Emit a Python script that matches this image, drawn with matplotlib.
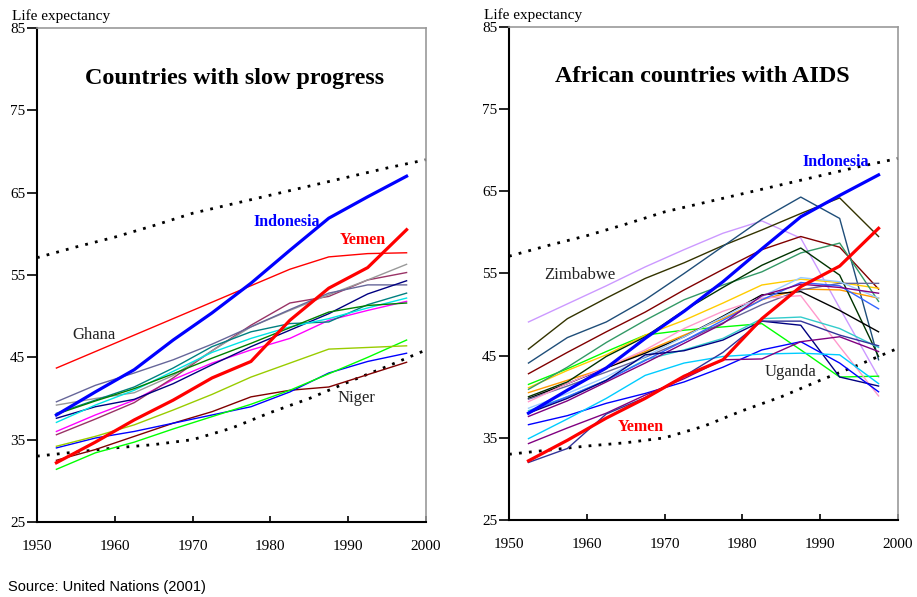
import numpy as np
import matplotlib
matplotlib.use("Agg")
from matplotlib import pyplot as plt

plt.rcParams['font.family'] = ['Liberation Serif', 'DejaVu Serif']

# mid-points of the five-year periods
years = [1952.5, 1957.5, 1962.5, 1967.5, 1972.5, 1977.5, 1982.5, 1987.5, 1992.5, 1997.5]

# frontier (dotted) lines
frontier_years = [1950, 1955, 1960, 1965, 1970, 1975, 1980, 1985, 1990, 1995, 2000]
frontier_upper = [57.1, 58.4, 59.6, 61.0, 62.5, 63.6, 64.7, 65.8, 66.9, 68.0, 69.0]
frontier_lower = [33.0, 33.5, 34.0, 34.4, 35.0, 36.4, 38.3, 40.0, 42.0, 43.9, 45.9]

# highlighted countries (both panels)
indonesia = [38.0, 40.8, 43.5, 47.1, 50.4, 54.0, 58.0, 61.9, 64.5, 67.0]
yemen = [32.2, 34.7, 37.4, 39.8, 42.5, 44.5, 49.5, 53.4, 55.9, 60.5]

# left panel: countries with slow progress
ghana = [43.7, 45.7, 47.7, 49.7, 51.7, 53.7, 55.7, 57.2, 57.6, 57.7]
niger = [32.5, 33.8, 35.4, 37.0, 38.4, 40.2, 41.0, 41.4, 42.9, 44.4]
slow_blue = [34.0, 35.2, 36.0, 37.0, 38.0, 39.0, 40.8, 43.1, 44.5, 45.5]
slow_green = [31.4, 33.4, 34.7, 36.3, 37.8, 39.3, 41.0, 43.0, 45.0, 47.1]
slow_olive = [34.2, 35.4, 36.8, 38.6, 40.5, 42.6, 44.3, 46.0, 46.2, 46.4]
slow_magenta = [36.0, 38.0, 39.8, 42.3, 44.3, 45.9, 47.3, 49.5, 50.7, 51.8]
slow_mauve = [35.6, 37.5, 39.5, 42.5, 45.8, 48.9, 51.6, 52.4, 54.4, 55.3]
slow_gray = [39.2, 40.0, 40.7, 42.8, 45.8, 48.7, 50.7, 52.6, 54.4, 56.3]
slow_slate = [39.6, 41.6, 43.1, 44.7, 46.6, 48.7, 50.8, 52.8, 53.8, 53.8]
slow_navy = [37.6, 39.0, 39.9, 41.8, 44.1, 46.3, 48.3, 50.3, 52.7, 54.3]
slow_teal = [38.2, 39.8, 41.4, 43.7, 46.3, 48.1, 49.1, 49.3, 51.4, 52.8]
slow_cyan = [37.1, 39.2, 41.0, 43.3, 45.6, 47.3, 48.7, 49.7, 51.0, 52.2]
slow_dkgreen = [38.1, 39.7, 41.2, 43.0, 44.9, 46.7, 48.6, 50.5, 51.3, 51.6]

# right panel: African countries with AIDS
zimbabwe = [49.1, 51.3, 53.5, 55.8, 57.9, 59.9, 61.4, 59.3, 50.8, 42.4]
aids_olive = [45.8, 49.5, 52.0, 54.4, 56.3, 58.4, 60.3, 62.3, 64.2, 59.5]
aids_dkteal = [44.1, 47.2, 49.1, 51.8, 55.0, 58.3, 61.6, 64.3, 61.7, 44.5]
aids_dkred = [42.8, 45.4, 47.9, 50.3, 53.0, 55.5, 57.9, 59.5, 58.2, 53.1]
aids_green = [41.5, 43.4, 45.5, 47.5, 48.1, 48.5, 48.9, 45.7, 42.4, 42.5]
aids_gold = [41.1, 43.2, 45.1, 47.5, 49.3, 51.4, 53.6, 54.3, 53.9, 53.2]
aids_seagreen = [40.9, 43.6, 46.6, 49.3, 51.8, 53.6, 55.2, 57.5, 58.7, 51.6]
aids_orange = [40.5, 42.0, 43.5, 45.5, 47.5, 49.5, 51.8, 53.1, 53.0, 52.0]
aids_dkgreen = [40.0, 41.8, 44.9, 47.3, 50.5, 53.3, 56.0, 58.1, 54.8, 44.9]
aids_black = [39.8, 41.6, 43.5, 45.3, 47.3, 49.8, 52.4, 52.8, 50.5, 47.9]
aids_slategray = [39.7, 41.3, 43.0, 44.8, 46.8, 49.0, 51.2, 53.0, 53.8, 53.8]
aids_pink = [39.4, 41.6, 43.6, 45.7, 48.3, 50.4, 52.0, 52.3, 46.1, 40.1]
aids_ltblue = [38.6, 40.4, 42.4, 44.9, 47.3, 49.7, 52.2, 54.5, 54.0, 52.0]
aids_turq = [38.3, 40.0, 42.0, 44.5, 45.7, 47.1, 49.5, 49.7, 48.3, 46.0]
aids_blue2 = [38.1, 40.0, 42.0, 44.4, 46.8, 49.3, 51.8, 53.9, 53.5, 50.7]
aids_purple = [37.6, 39.5, 41.8, 44.1, 46.5, 48.9, 52.3, 53.7, 53.3, 52.6]
aids_navy = [38.0, 39.8, 42.0, 45.1, 45.6, 46.9, 49.2, 48.7, 42.4, 41.3]
aids_blue = [36.6, 37.7, 39.2, 40.4, 41.8, 43.6, 45.7, 46.7, 44.1, 40.6]
aids_cyan = [34.9, 37.3, 39.8, 42.6, 44.1, 44.9, 45.2, 45.3, 45.1, 41.6]
aids_purple2 = [34.3, 36.2, 38.0, 40.2, 42.2, 44.5, 44.6, 46.7, 47.3, 45.5]
uganda = [32.0, 33.7, 37.9, 39.9, 42.5, 45.4, 49.2, 49.2, 47.5, 46.2]

slow_series = [ghana, niger, slow_blue, slow_green, slow_olive, slow_magenta, slow_mauve,
               slow_gray, slow_slate, slow_navy, slow_teal, slow_cyan, slow_dkgreen]
slow_colors = ['#ff0000', '#800000', '#0000ff', '#00ff00', '#99cc00', '#ff00ff', '#993366',
               '#999999', '#666699', '#000080', '#008080', '#00e5e5', '#008000']

aids_series = [zimbabwe, aids_olive, aids_dkteal, aids_dkred, aids_green, aids_gold,
               aids_seagreen, aids_orange, aids_dkgreen, aids_black, aids_slategray, aids_pink,
               aids_ltblue, aids_turq, aids_blue2, aids_purple, aids_navy, aids_blue,
               aids_cyan, aids_purple2, uganda]
aids_colors = ['#cc99ff', '#333300', '#1f4e79', '#800000', '#00ff00', '#ffcc00',
               '#339966', '#ff9900', '#003300', '#000000', '#666699', '#ff99cc',
               '#99ccff', '#33cccc', '#3366ff', '#800080', '#000080', '#0000ff',
               '#00ccff', '#800080', '#333399']


def style_axes(ax):
    ax.set_xlim(1950, 2000)
    ax.set_ylim(25, 85)
    ax.set_xticks(range(1950, 2001, 10))
    ax.set_yticks(range(25, 86, 10))
    for s in ['top', 'right']:
        ax.spines[s].set_color('#999999')
        ax.spines[s].set_linewidth(1.2)
    for s in ['left', 'bottom']:
        ax.spines[s].set_color('black')
        ax.spines[s].set_linewidth(1.5)
    ax.tick_params(axis='y', direction='out', length=7, width=1.2, pad=1.5, labelsize=11)
    ax.tick_params(axis='x', direction='in', length=4, width=1.2, pad=13, labelsize=11)
    ax.text(-0.064, 1.025, 'Life expectancy', transform=ax.transAxes,
            fontsize=11, va='center', ha='left')
    # frontier lines
    for f in [frontier_upper, frontier_lower]:
        ax.plot(frontier_years, f, color='black', lw=2, ls=(0, (1, 2.6)), clip_on=False)


fig = plt.figure(figsize=(9.17, 5.97), dpi=100)
ax1 = fig.add_axes([0.0403, 0.1256, 0.4243, 0.8275])
ax2 = fig.add_axes([0.5551, 0.1290, 0.4242, 0.8258])

# left panel
style_axes(ax1)
for vals, c in zip(slow_series, slow_colors):
    ax1.plot(years, vals, color=c, lw=1.0)
ax1.plot(years, yemen, color='#ff0000', lw=2.3)
ax1.plot(years, indonesia, color='#0000ff', lw=2.3)
ax1.text(0.509, 0.897, 'Countries with slow progress', transform=ax1.transAxes,
         fontsize=17.4, fontweight='bold', ha='center', va='center')
ax1.text(1954.6, 47.7, 'Ghana', fontsize=12, color='#222222', va='center')
ax1.text(1988.6, 40.1, 'Niger', fontsize=12, color='#222222', va='center')
ax1.text(1977.8, 61.4, 'Indonesia', fontsize=11.5, fontweight='bold', color='#0000ff', va='center')
ax1.text(1988.9, 59.3, 'Yemen', fontsize=11.5, fontweight='bold', color='#ff0000', va='center')

# right panel
style_axes(ax2)
for vals, c in zip(aids_series, aids_colors):
    ax2.plot(years, vals, color=c, lw=1.0)
ax2.plot(years, yemen, color='#ff0000', lw=2.3)
ax2.plot(years, indonesia, color='#0000ff', lw=2.3)
ax2.text(0.496, 0.90, 'African countries with AIDS', transform=ax2.transAxes,
         fontsize=17.4, fontweight='bold', ha='center', va='center')
ax2.text(1954.5, 54.8, 'Zimbabwe', fontsize=12, color='#222222', va='center')
ax2.text(1982.9, 43.0, 'Uganda', fontsize=12, color='#222222', va='center')
ax2.text(1987.7, 68.6, 'Indonesia', fontsize=11.5, fontweight='bold', color='#0000ff', va='center')
ax2.text(1964.0, 36.3, 'Yemen', fontsize=11.5, fontweight='bold', color='#ff0000', va='center')

fig.text(0.009, 0.017, 'Source: United Nations (2001)', fontsize=10.5,
         family=['Liberation Sans', 'DejaVu Sans'], va='center', ha='left')

fig.savefig('out.png', dpi=100)
